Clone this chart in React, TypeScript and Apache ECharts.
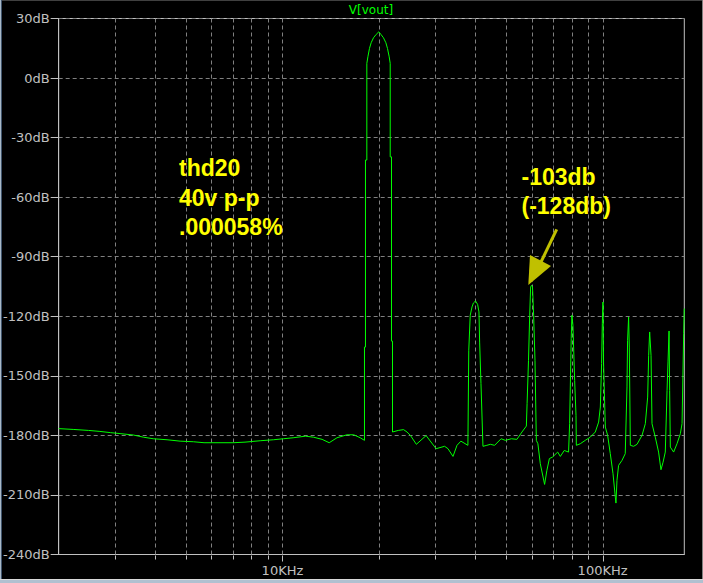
import React, { useEffect, useRef } from 'react';
import * as echarts from 'echarts';

// Frequency of each trace point (kHz)
const freqKHz = [
  2.0, 2.22, 2.48, 2.69, 2.9, 3.11, 3.42, 3.68, 3.95, 4.36, 4.79, 5.27, 5.69, 7.03, 7.64, 8.52, 9.37, 10.07, 10.8, 11.8, 12.5, 13.3, 14.0, 14.8, 15.9, 16.7, 17.5, 18.04,
  18.04, 18.17, 18.17, 18.35, 18.35, 18.49, 18.7, 18.93, 19.25, 19.63, 20.0, 20.3, 20.68, 21.04, 21.29, 21.55, 21.71, 21.71, 21.91, 21.91, 22.07, 22.07,
  23.0, 23.9, 24.5, 25.1, 26.2, 28.1, 30.2, 32.1, 32.9, 34.1, 35.1, 36.1, 37.96,
  38.2, 38.6, 39.1, 39.5, 40.1, 40.7, 41.1, 41.3, 41.7, 42.3,
  43.5, 44.6, 46.0, 48.2, 49.7, 51.9, 54.0, 56.0, 57.8,
  58.1, 58.7, 59.2, 59.6, 60.0, 60.4, 60.9, 61.5, 62.1, 62.8, 63.9, 65.9, 67.0, 68.2, 69.8, 72.4, 73.8, 75.9, 78.3,
  78.9, 79.8, 80.2, 80.8, 81.8, 82.6, 82.8, 85.2, 88.3, 91.5, 94.9, 97.2, 98.4, 99.3, 99.8, 100.3, 100.7, 102, 103.7, 105.7, 107.8, 109.6, 110.1, 110.9, 112.2, 115.0, 117.7,
  119.2, 119.7, 120.6, 121.2, 122.1, 125.0, 128.1, 132.8, 136.0, 138.3, 139.3, 140.3, 141.7, 142.7, 146.1, 149.6, 152.2, 154.5, 157.0, 159.0, 160.1, 161.3, 162.0, 162.8, 166.7, 170.8, 175.0, 177.1, 179.2, 180.0,
];

// Level of each trace point (dB)
const levelDb = [
  -176.6, -177.0, -177.5, -178.0, -178.6, -179.1, -179.8, -180.9, -181.7, -182.2, -182.9, -183.2, -183.7, -183.7, -183.4, -182.7, -182.2, -181.7, -181.2, -180.4, -180.9, -182.0, -183.7, -181.2, -179.7, -179.7, -181.2, -182.5,
  -135.5, -135.5, -41.3, -41.3, 7.4, 10.7, 14.9, 17.8, 20.3, 22.0, 23.3, 22.0, 20.3, 17.8, 14.9, 10.7, 7.4, -39.7, -39.7, -132.5, -132.5, -178.3,
  -177.5, -177.1, -178.3, -180.0, -184.5, -180.1, -186.7, -185.5, -186.7, -190.6, -185.0, -182.9, -185.0,
  -137.1, -119.5, -115.3, -113.3, -112.3, -114.0, -117.8, -133.0, -153.9, -185.5,
  -185.0, -184.5, -185.0, -181.7, -182.5, -181.7, -182.0, -178.3, -175.3,
  -164.0, -142.2, -119.5, -105.2, -104.4, -105.2, -119.5, -142.2, -182.5, -184.2, -194.3, -204.7, -197.6, -191.7, -190.9, -188.4, -190.6, -187.6, -188.4,
  -174.1, -131.2, -119.5, -124.5, -152.3, -169.9, -185.0, -184.2, -182.5, -180.9, -178.3, -173.3, -165.7, -143.8, -123.7, -112.8, -143.8, -175.8, -180.0, -189.2, -199.3, -211.1, -214.1, -202.7, -195.1, -192.6, -189.2,
  -155.6, -132.1, -120.4, -135.5, -185.0, -185.5, -184.5, -180.0, -174.1, -160.7, -139.7, -127.9, -139.7, -174.1, -180.9, -188.4, -197.3, -193.5, -188.4, -157.3, -143.0, -127.4, -157.3, -185.9, -188.4, -184.2, -179.1, -174.1, -128.7, -116.1,
];

// Vertical grid positions (kHz) and labelled ticks
const gridFreqKHz = [3, 4, 5, 6, 7, 8, 9, 10, 20, 30, 40, 50, 60, 70, 80, 90, 100];
const majorFreqKHz = [10, 100];
const majorLabels = ['10KHz', '100KHz'];

const X_MIN = 2;
const X_MAX = 180;
const Y_MIN = -240;
const Y_MAX = 30;
const Y_STEP = 30;

const traceName = 'V[vout]';
const noteLines = ['thd20', '40v p-p', '.000058%'];
const peakNoteLines = ['-103db', '(-128db)'];

const AXIS_GREY = '#c0c0c0';
const GRID_GREY = '#808080';
const TRACE = '#00ff00';
const NOTE = '#ffff00';
const ARROW = '#c0c000';

export default function App() {
  const ref = useRef<HTMLDivElement>(null);

  useEffect(() => {
    if (!ref.current) return;
    const chart = echarts.init(ref.current, undefined, { renderer: 'svg' });

    const option: any = {
      animation: false,
      backgroundColor: '#000000',
      textStyle: { fontFamily: 'DejaVu Sans' },
      grid: {
        left: 58,
        right: 18.7,
        top: 18.5,
        bottom: 28.5,
        show: true,
        borderColor: AXIS_GREY,
        borderWidth: 1,
        backgroundColor: 'transparent',
      },
      xAxis: {
        type: 'log',
        logBase: 10,
        min: X_MIN,
        max: X_MAX,
        axisLine: { show: true, onZero: false, lineStyle: { color: AXIS_GREY, width: 1 } },
        axisTick: { show: false },
        splitLine: { show: false },
        minorSplitLine: { show: false },
        axisLabel: {
          color: AXIS_GREY,
          fontSize: 13,
          fontFamily: 'DejaVu Sans',
          margin: 9,
          hideOverlap: false,
          formatter: (v: number) => {
            for (let i = 0; i < majorFreqKHz.length; i++) {
              if (Math.abs(v - majorFreqKHz[i]) < 1e-6) return majorLabels[i];
            }
            return '';
          },
        },
      },
      yAxis: {
        type: 'value',
        min: Y_MIN,
        max: Y_MAX,
        interval: Y_STEP,
        axisLine: { show: true, onZero: false, lineStyle: { color: AXIS_GREY, width: 1 } },
        axisTick: { show: true, length: 8, lineStyle: { color: AXIS_GREY, width: 1 } },
        axisLabel: {
          color: AXIS_GREY,
          fontSize: 13,
          fontFamily: 'DejaVu Sans',
          margin: 9,
          formatter: (v: number) => `${v}dB`,
        },
        splitLine: { show: true, lineStyle: { color: GRID_GREY, type: [4, 3], width: 1 } },
      },
      series: [
        {
          type: 'line',
          name: traceName,
          data: freqKHz.map((f, i) => [f, levelDb[i]]),
          showSymbol: false,
          symbol: 'none',
          silent: true,
          lineStyle: { color: TRACE, width: 1 },
          itemStyle: { color: TRACE },
          z: 5,
        },
      ],
    };

    chart.setOption(option);

    const yBottom = chart.convertToPixel({ yAxisIndex: 0 }, Y_MIN) as number;
    const yTop = chart.convertToPixel({ yAxisIndex: 0 }, Y_MAX) as number;
    const yb = Math.round(yBottom) + 0.5;
    const gridEls: any[] = [];
    gridFreqKHz.forEach((f) => {
      const x = Math.round(chart.convertToPixel({ xAxisIndex: 0 }, f) as number) + 0.5;
      const len = majorFreqKHz.indexOf(f) >= 0 ? 6 : 4;
      gridEls.push({
        type: 'line',
        silent: true,
        z: 1,
        shape: { x1: x, y1: yTop, x2: x, y2: yBottom },
        style: { stroke: GRID_GREY, lineWidth: 1, lineDash: [4, 3] },
      });
      gridEls.push({
        type: 'line',
        silent: true,
        z: 1,
        shape: { x1: x, y1: yb, x2: x, y2: yb + len },
        style: { stroke: AXIS_GREY, lineWidth: 1 },
      });
    });

    const textStyle = (text: string, fill: string, size: number, weight: string, align: string) => ({
      text,
      fill,
      fontSize: size,
      fontWeight: weight,
      fontFamily: '"Liberation Sans", Arial, sans-serif',
      align,
      verticalAlign: 'middle',
      textAlign: align,
      textVerticalAlign: 'middle',
    });

    const noteY = [168, 198, 227];
    const peakY = [177, 206];

    const graphics: any[] = [
      ...gridEls,
      {
        type: 'text',
        silent: true,
        z: 10,
        x: 371,
        y: 9.5,
        style: { ...textStyle(traceName, TRACE, 12, 'normal', 'center'), fontFamily: 'DejaVu Sans' },
      },
      ...noteLines.map((t, i) => ({
        type: 'text',
        silent: true,
        z: 10,
        x: 179,
        y: noteY[i],
        style: textStyle(t, NOTE, 23, 'bold', 'left'),
      })),
      ...peakNoteLines.map((t, i) => ({
        type: 'text',
        silent: true,
        z: 10,
        x: 521.5,
        y: peakY[i],
        style: textStyle(t, NOTE, 23, 'bold', 'left'),
      })),
      {
        type: 'line',
        silent: true,
        z: 10,
        shape: { x1: 556.7, y1: 229.3, x2: 541, y2: 262 },
        style: { stroke: ARROW, lineWidth: 3 },
      },
      {
        type: 'polygon',
        silent: true,
        z: 10,
        shape: { points: [[528.3, 285], [530, 255], [551, 266]] },
        style: { fill: ARROW },
      },
    ];

    chart.setOption({ graphic: graphics });

    return () => {
      chart.dispose();
    };
  }, []);

  return (
    <div
      style={{
        position: 'fixed',
        left: 0,
        top: 0,
        width: 703,
        height: 583,
        background: '#000',
        overflow: 'hidden',
      }}
    >
      <div ref={ref} style={{ position: 'absolute', left: 0, top: 0, width: 703, height: 583 }} />
      <div style={{ position: 'absolute', left: 0, top: 0, width: 703, height: 1, background: '#404040' }} />
      <div style={{ position: 'absolute', left: 0, top: 0, width: 1, height: 583, background: '#a8b8c8' }} />
      <div style={{ position: 'absolute', left: 1, top: 0, width: 1, height: 583, background: '#40546c' }} />
      <div style={{ position: 'absolute', left: 702, top: 0, width: 1, height: 583, background: '#808080' }} />
      <div style={{ position: 'absolute', left: 0, top: 579, width: 703, height: 1, background: '#d8d8d8' }} />
      <div style={{ position: 'absolute', left: 0, top: 580, width: 703, height: 3, background: '#b0c0d0' }} />
    </div>
  );
}
